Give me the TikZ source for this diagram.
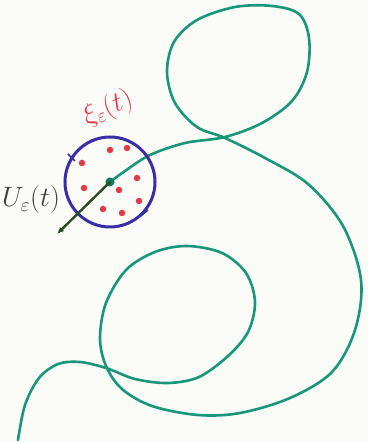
\documentclass[tikz,border=0pt]{standalone}
\usepackage{amsmath}
\usepackage{tikz}
\usetikzlibrary{arrows.meta}
\definecolor{paper}{HTML}{FBFBF7}
\definecolor{pathGreen}{HTML}{17967A}
\definecolor{ballBlue}{HTML}{3B2DA6}
\definecolor{dotRed}{HTML}{E2394A}
\definecolor{arrowDark}{HTML}{2E4A22}
\definecolor{labelGray}{HTML}{3F3F3F}

\begin{document}
\begin{tikzpicture}[x=1pt,y=1pt,font=\huge,
    trajectory/.style={pathGreen,line width=2.6pt,line cap=round,line join=round},
    ball/.style={ballBlue,line width=3pt},
    particle/.style={circle,fill=dotRed,inner sep=0pt,minimum size=6.5pt},
    handlabel/.style={inner sep=1pt,scale=1.35}]
  % paper
  \fill[paper] (0,0) rectangle (368,442);
  \useasboundingbox (0,0) rectangle (368,442);

  % trajectory of the process
  \draw[trajectory] plot[smooth,tension=0.55] coordinates {
    (110,260) (125,271) (150,287) (185,299) (225,305) (262,319) (292,341)
    (307,370) (309,404) (299,428) (272,436) (235,435) (197,422) (174,400) (167,370)
    (175,339) (197,315) (225,304) (265,284) (308,258) (343,216) (361,162)
    (355,112) (332,70) (290,44) (240,29) (198,27) (152,36) (122,53)
    (106,76) (100,104) (106,139) (126,172) (155,190) (187,196) (222,189)
    (246,169) (255,140) (248,110) (228,86) (199,65) (168,59) (135,63)
    (106,74) (80,80) (58,78) (39,64) (25,37) (18,2)};

  % ball around the current position
  \coordinate (centre) at (110,260);
  \draw[ball] (centre) circle (45);
  \draw[ballBlue,line width=1.5pt] (68,288) -- (75,281);
  \draw[ballBlue,line width=1.5pt] (141,226) -- (148,232);
  \fill[pathGreen!80!black] (centre) circle (4.5);

  % particles inside the ball
  \foreach \px/\py in {110/292,127/294,82/279,137/264,84/254,119/252,139/241,103/233,122/229}
    \node[particle] at (\px,\py) {};

  % velocity arrow
  \coordinate (tip) at (57,208);
  \draw[arrowDark,line width=2.4pt,-{Latex[length=7pt,width=6pt]}] (centre) -- (tip);

  % labels
  \node[handlabel,dotRed,rotate=22] (xilabel) at (108,334) {$\xi_\varepsilon(t)$};
  \node[handlabel,labelGray] (ulabel) at (31,242) {$U_\varepsilon(t)$};
\end{tikzpicture}
\end{document}
